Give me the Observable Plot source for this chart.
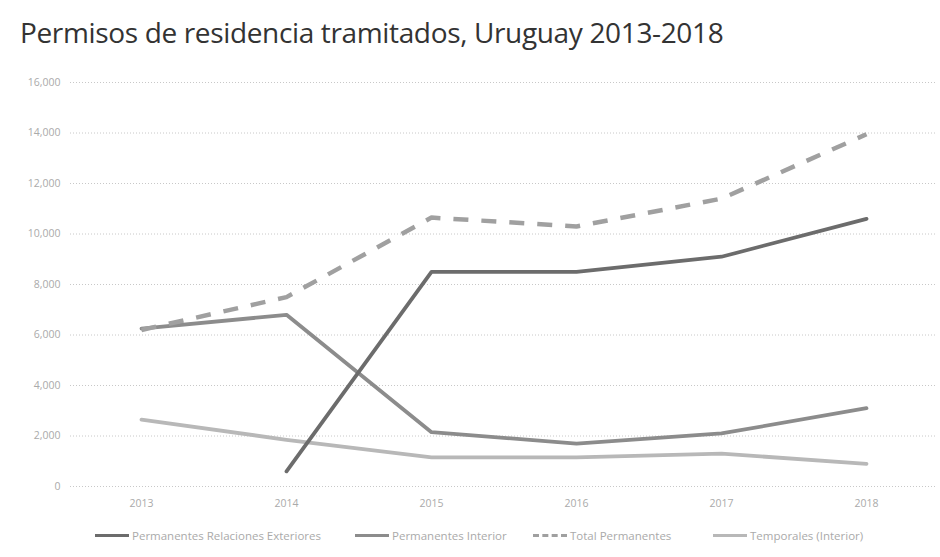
<!DOCTYPE html>
<html>
<head>
<meta charset="utf-8">
<script src="https://cdn.jsdelivr.net/npm/d3@7"></script>
<script src="https://cdn.jsdelivr.net/npm/@observablehq/plot@0.6"></script>
<style>
  html, body { margin: 0; padding: 0; background: #fff; }
  body { width: 940px; height: 557px; overflow: hidden; font-family: "Open Sans", "Noto Sans", sans-serif; }
  #title { height: 60px; box-sizing: border-box; padding: 13px 0 0 20px; font-size: 28px; color: #333; letter-spacing: -0.35px; white-space: nowrap; }
  #legend { font-size: 11.5px; color: #aaa; }
  .item { position: absolute; display: flex; align-items: center; }
  .sw { width: 34px; height: 0; margin-right: 3px; }
</style>
</head>
<body>
<div id="title">Permisos de residencia tramitados, Uruguay 2013-2018</div>
<div id="chart"></div>
<div id="legend"></div>
<script>
const years = [2013, 2014, 2015, 2016, 2017, 2018];
const seriesNames = ["Permanentes Relaciones Exteriores", "Permanentes Interior", "Total Permanentes", "Temporales (Interior)"];
const relExt = [null, 600, 8500, 8500, 9100, 10600];
const interior = [6250, 6800, 2150, 1700, 2100, 3100];
const total = [6200, 7500, 10650, 10300, 11400, 13950];
const temporales = [2650, 1850, 1150, 1150, 1300, 900];
const yTicks = [0, 2000, 4000, 6000, 8000, 10000, 12000, 14000, 16000];

const colors = ["#6c6c6c", "#8c8c8c", "#a0a0a0", "#b8b8b8"];
const dashes = [null, null, "15,13", null];
const values = [relExt, interior, total, temporales];

const data = [];
values.forEach((arr, i) => arr.forEach((v, j) => {
  if (v != null) data.push({series: seriesNames[i], year: String(years[j]), value: v});
}));

const fmt = d3.format(",");
const marks = [
  Plot.ruleY(yTicks, {stroke: "#c8c8c8", strokeDasharray: "1,2", strokeWidth: 1, insetLeft: 3, insetRight: 5})
];
[3, 1, 0, 2].forEach(i => {
  marks.push(Plot.line(data.filter(d => d.series === seriesNames[i]), {
    x: "year", y: "value", stroke: colors[i], strokeWidth: dashes[i] ? 4.5 : 3.8,
    strokeDasharray: dashes[i] || undefined, strokeLinecap: dashes[i] ? "butt" : "round", strokeLinejoin: "round"
  }));
});

const chart = Plot.plot({
  width: 940,
  height: 465,
  marginTop: 22,
  marginBottom: 39,
  marginLeft: 67,
  marginRight: 0,
  style: {fontFamily: "'Open Sans', sans-serif", fontSize: "10.5px", color: "#aaa", background: "#fff"},
  x: {type: "point", domain: years.map(String), padding: 0.5, label: null, tickSize: 0, tickPadding: 13},
  y: {domain: [0, 16000], ticks: yTicks, tickFormat: fmt, label: null, tickSize: 0, tickPadding: 7},
  marks
});
document.getElementById("chart").appendChild(chart);

const legend = document.getElementById("legend");
legend.style.position = "relative";
legend.style.height = "20px";
legend.style.marginTop = "3px";
const lx = [95, 355, 533, 713];
seriesNames.forEach((name, i) => {
  const item = document.createElement("div");
  item.className = "item";
  item.style.left = lx[i] + "px";
  const sw = document.createElement("span");
  sw.className = "sw";
  sw.style.borderTop = `3px ${dashes[i] ? "dashed" : "solid"} ${colors[i]}`;
  item.appendChild(sw);
  const t = document.createElement("span");
  t.textContent = name;
  item.appendChild(t);
  legend.appendChild(item);
});
</script>
</body>
</html>
